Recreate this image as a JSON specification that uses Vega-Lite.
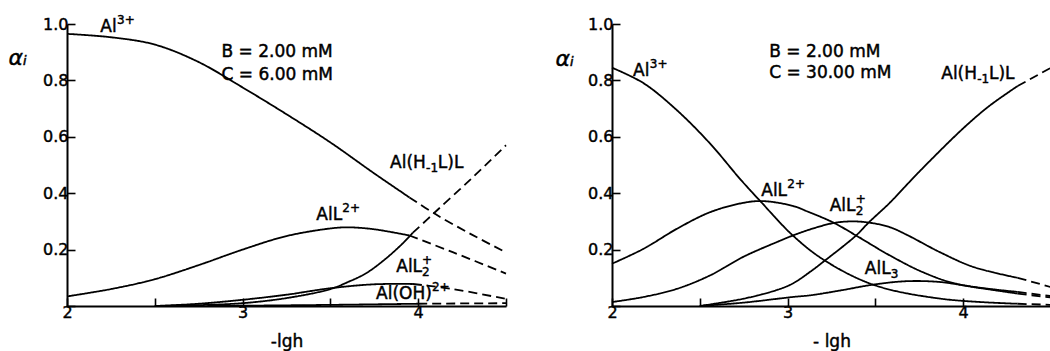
{
  "$schema": "https://vega.github.io/schema/vega-lite/v6.json",
  "background": "white",
  "padding": {"left": 8, "top": 14, "right": 0, "bottom": 6},
  "spacing": 106,
  "bounds": "flush",
  "config": {
    "view": {"stroke": null},
    "font": "DejaVu Sans",
    "style": {
      "guide-label": {"stroke": "black", "strokeWidth": 0.45},
      "guide-title": {"stroke": "black", "strokeWidth": 0.45}
    },
    "text": {"stroke": "black", "strokeWidth": 0.45},
    "axis": {
      "domainColor": "black", "domainWidth": 2, "tickColor": "black", "tickWidth": 1.6, "tickSize": -8,
      "labelColor": "black", "labelFont": "DejaVu Sans", "labelFontSize": 16, "grid": false,
      "titleColor": "black", "titleFont": "DejaVu Sans", "titleFontWeight": "normal", "labelFlush": false, "labelOverlap": false
    }
  },
  "datasets": {
    "left": [
      {"s":"Al3","seg":"solid","x":2.0,"y":0.965},{"s":"Al3","seg":"solid","x":2.25,"y":0.953},{"s":"Al3","seg":"solid","x":2.5,"y":0.927},{"s":"Al3","seg":"solid","x":2.75,"y":0.865},{"s":"Al3","seg":"solid","x":3.0,"y":0.775},{"s":"Al3","seg":"solid","x":3.25,"y":0.68},{"s":"Al3","seg":"solid","x":3.5,"y":0.58},{"s":"Al3","seg":"solid","x":3.75,"y":0.47},{"s":"Al3","seg":"solid","x":3.95,"y":0.385},
      {"s":"Al3","seg":"dashed","x":3.95,"y":0.385},{"s":"Al3","seg":"dashed","x":4.1,"y":0.325},{"s":"Al3","seg":"dashed","x":4.3,"y":0.255},{"s":"Al3","seg":"dashed","x":4.5,"y":0.19},
      {"s":"AlL","seg":"solid","x":2.0,"y":0.034},{"s":"AlL","seg":"solid","x":2.25,"y":0.06},{"s":"AlL","seg":"solid","x":2.5,"y":0.095},{"s":"AlL","seg":"solid","x":2.75,"y":0.145},{"s":"AlL","seg":"solid","x":3.0,"y":0.2},{"s":"AlL","seg":"solid","x":3.25,"y":0.248},{"s":"AlL","seg":"solid","x":3.5,"y":0.275},{"s":"AlL","seg":"solid","x":3.6,"y":0.279},{"s":"AlL","seg":"solid","x":3.75,"y":0.272},{"s":"AlL","seg":"solid","x":3.95,"y":0.25},
      {"s":"AlL","seg":"dashed","x":3.95,"y":0.25},{"s":"AlL","seg":"dashed","x":4.2,"y":0.19},{"s":"AlL","seg":"dashed","x":4.5,"y":0.115},
      {"s":"AlHL","seg":"solid","x":2.5,"y":0.0},{"s":"AlHL","seg":"solid","x":2.75,"y":0.003},{"s":"AlHL","seg":"solid","x":3.0,"y":0.01},{"s":"AlHL","seg":"solid","x":3.25,"y":0.028},{"s":"AlHL","seg":"solid","x":3.5,"y":0.06},{"s":"AlHL","seg":"solid","x":3.6,"y":0.085},{"s":"AlHL","seg":"solid","x":3.7,"y":0.115},{"s":"AlHL","seg":"solid","x":3.8,"y":0.16},{"s":"AlHL","seg":"solid","x":3.9,"y":0.215},{"s":"AlHL","seg":"solid","x":3.97,"y":0.26},
      {"s":"AlHL","seg":"dashed","x":3.97,"y":0.26},{"s":"AlHL","seg":"dashed","x":4.1,"y":0.335},{"s":"AlHL","seg":"dashed","x":4.3,"y":0.45},{"s":"AlHL","seg":"dashed","x":4.5,"y":0.57},
      {"s":"AlL2","seg":"solid","x":2.5,"y":0.0},{"s":"AlL2","seg":"solid","x":2.75,"y":0.008},{"s":"AlL2","seg":"solid","x":3.0,"y":0.022},{"s":"AlL2","seg":"solid","x":3.25,"y":0.04},{"s":"AlL2","seg":"solid","x":3.5,"y":0.063},{"s":"AlL2","seg":"solid","x":3.75,"y":0.077},{"s":"AlL2","seg":"solid","x":3.97,"y":0.078},
      {"s":"AlL2","seg":"dashed","x":3.97,"y":0.078},{"s":"AlL2","seg":"dashed","x":4.2,"y":0.06},{"s":"AlL2","seg":"dashed","x":4.5,"y":0.025},
      {"s":"AlOH","seg":"solid","x":2.8,"y":0.0},{"s":"AlOH","seg":"solid","x":3.0,"y":0.001},{"s":"AlOH","seg":"solid","x":3.5,"y":0.004},{"s":"AlOH","seg":"solid","x":4.0,"y":0.008},
      {"s":"AlOH","seg":"dashed","x":4.0,"y":0.008},{"s":"AlOH","seg":"dashed","x":4.5,"y":0.01}
    ],
    "right": [
      {"s":"Al3","seg":"solid","x":2.0,"y":0.845},{"s":"Al3","seg":"solid","x":2.18,"y":0.79},{"s":"Al3","seg":"solid","x":2.37,"y":0.694},{"s":"Al3","seg":"solid","x":2.56,"y":0.575},{"s":"Al3","seg":"solid","x":2.73,"y":0.45},{"s":"Al3","seg":"solid","x":2.84,"y":0.375},{"s":"Al3","seg":"solid","x":3.03,"y":0.25},{"s":"Al3","seg":"solid","x":3.21,"y":0.162},{"s":"Al3","seg":"solid","x":3.49,"y":0.075},{"s":"Al3","seg":"solid","x":3.87,"y":0.026},{"s":"Al3","seg":"solid","x":4.31,"y":0.008},
      {"s":"Al3","seg":"dashed","x":4.31,"y":0.008},{"s":"Al3","seg":"dashed","x":4.5,"y":0.004},
      {"s":"AlL","seg":"solid","x":2.0,"y":0.15},{"s":"AlL","seg":"solid","x":2.18,"y":0.203},{"s":"AlL","seg":"solid","x":2.37,"y":0.274},{"s":"AlL","seg":"solid","x":2.56,"y":0.333},{"s":"AlL","seg":"solid","x":2.75,"y":0.366},{"s":"AlL","seg":"solid","x":2.86,"y":0.372},{"s":"AlL","seg":"solid","x":3.03,"y":0.355},{"s":"AlL","seg":"solid","x":3.11,"y":0.336},{"s":"AlL","seg":"solid","x":3.26,"y":0.296},{"s":"AlL","seg":"solid","x":3.39,"y":0.25},{"s":"AlL","seg":"solid","x":3.58,"y":0.18},{"s":"AlL","seg":"solid","x":3.77,"y":0.12},{"s":"AlL","seg":"solid","x":3.96,"y":0.079},{"s":"AlL","seg":"solid","x":4.31,"y":0.05},
      {"s":"AlL","seg":"dashed","x":4.31,"y":0.05},{"s":"AlL","seg":"dashed","x":4.5,"y":0.035},
      {"s":"AlL2","seg":"solid","x":2.0,"y":0.014},{"s":"AlL2","seg":"solid","x":2.18,"y":0.032},{"s":"AlL2","seg":"solid","x":2.37,"y":0.061},{"s":"AlL2","seg":"solid","x":2.56,"y":0.109},{"s":"AlL2","seg":"solid","x":2.75,"y":0.175},{"s":"AlL2","seg":"solid","x":2.94,"y":0.227},{"s":"AlL2","seg":"solid","x":3.03,"y":0.25},{"s":"AlL2","seg":"solid","x":3.13,"y":0.272},{"s":"AlL2","seg":"solid","x":3.26,"y":0.294},{"s":"AlL2","seg":"solid","x":3.36,"y":0.3},{"s":"AlL2","seg":"solid","x":3.46,"y":0.296},{"s":"AlL2","seg":"solid","x":3.58,"y":0.28},{"s":"AlL2","seg":"solid","x":3.68,"y":0.252},{"s":"AlL2","seg":"solid","x":3.87,"y":0.19},{"s":"AlL2","seg":"solid","x":4.06,"y":0.138},{"s":"AlL2","seg":"solid","x":4.31,"y":0.1},
      {"s":"AlL2","seg":"dashed","x":4.31,"y":0.1},{"s":"AlL2","seg":"dashed","x":4.5,"y":0.067},
      {"s":"AlHL","seg":"solid","x":2.5,"y":0.0},{"s":"AlHL","seg":"solid","x":2.75,"y":0.026},{"s":"AlHL","seg":"solid","x":2.94,"y":0.057},{"s":"AlHL","seg":"solid","x":3.03,"y":0.08},{"s":"AlHL","seg":"solid","x":3.13,"y":0.122},{"s":"AlHL","seg":"solid","x":3.21,"y":0.16},{"s":"AlHL","seg":"solid","x":3.39,"y":0.25},{"s":"AlHL","seg":"solid","x":3.46,"y":0.295},{"s":"AlHL","seg":"solid","x":3.58,"y":0.365},{"s":"AlHL","seg":"solid","x":3.74,"y":0.47},{"s":"AlHL","seg":"solid","x":4.0,"y":0.63},{"s":"AlHL","seg":"solid","x":4.15,"y":0.71},{"s":"AlHL","seg":"solid","x":4.31,"y":0.78},
      {"s":"AlHL","seg":"dashed","x":4.31,"y":0.78},{"s":"AlHL","seg":"dashed","x":4.5,"y":0.845},
      {"s":"AlL3","seg":"solid","x":2.5,"y":0.0},{"s":"AlL3","seg":"solid","x":2.75,"y":0.012},{"s":"AlL3","seg":"solid","x":3.03,"y":0.032},{"s":"AlL3","seg":"solid","x":3.13,"y":0.038},{"s":"AlL3","seg":"solid","x":3.3,"y":0.055},{"s":"AlL3","seg":"solid","x":3.49,"y":0.076},{"s":"AlL3","seg":"solid","x":3.68,"y":0.088},{"s":"AlL3","seg":"solid","x":3.87,"y":0.085},{"s":"AlL3","seg":"solid","x":4.06,"y":0.067},{"s":"AlL3","seg":"solid","x":4.31,"y":0.044},
      {"s":"AlL3","seg":"dashed","x":4.31,"y":0.044},{"s":"AlL3","seg":"dashed","x":4.5,"y":0.03}
    ],
    "leftBase": [
      {"x":2.19,"y":0.97,"label":"Al"},
      {"x":2.88,"y":0.883,"label":"B = 2.00 mM"},
      {"x":2.88,"y":0.8,"label":"C = 6.00 mM"},
      {"x":3.84,"y":0.49,"label":"Al(H"},
      {"x":4.112,"y":0.49,"label":"L)L"},
      {"x":3.42,"y":0.305,"label":"AlL"},
      {"x":3.875,"y":0.12,"label":"AlL"},
      {"x":3.76,"y":0.025,"label":"Al(OH)"}
    ],
    "leftSup": [
      {"x":2.285,"y":0.97,"label":"3+"},
      {"x":3.568,"y":0.305,"label":"2+"},
      {"x":4.022,"y":0.12,"label":"+"},
      {"x":4.078,"y":0.025,"label":"2+"}
    ],
    "leftSub": [
      {"x":4.045,"y":0.49,"label":"-1"},
      {"x":4.022,"y":0.12,"label":"2"}
    ],
    "rightBase": [
      {"x":2.12,"y":0.815,"label":"Al"},
      {"x":2.895,"y":0.883,"label":"B = 2.00 mM"},
      {"x":2.895,"y":0.81,"label":"C = 30.00 mM"},
      {"x":3.875,"y":0.805,"label":"Al(H"},
      {"x":4.147,"y":0.805,"label":"L)L"},
      {"x":2.85,"y":0.39,"label":"AlL"},
      {"x":3.24,"y":0.336,"label":"AlL"},
      {"x":3.44,"y":0.115,"label":"AlL"}
    ],
    "rightSup": [
      {"x":2.215,"y":0.815,"label":"3+"},
      {"x":2.998,"y":0.39,"label":"2+"},
      {"x":3.388,"y":0.336,"label":"+"}
    ],
    "rightSub": [
      {"x":4.08,"y":0.805,"label":"-1"},
      {"x":3.388,"y":0.336,"label":"2"},
      {"x":3.588,"y":0.115,"label":"3"}
    ]
  },
  "hconcat": [
    {
      "width": 439, "height": 282,
      "encoding": {
        "x": {"field": "x", "type": "quantitative", "scale": {"domain": [2, 4.5], "nice": false, "zero": false},
          "axis": {"title": "-lgh", "values": [2, 2.5, 3, 3.5, 4, 4.5], "labelExpr": "datum.value % 1 === 0 ? format(datum.value, 'd') : ''", "labelPadding": 6, "titleFontSize": 17, "titleY": 40, "titleBaseline": "alphabetic"}},
        "y": {"field": "y", "type": "quantitative", "scale": {"domain": [0, 1], "nice": false},
          "axis": {"title": "αᵢ", "values": [0, 0.2, 0.4, 0.6, 0.8, 1.0], "labelExpr": "datum.value === 0 ? '' : format(datum.value, '.1f')", "labelPadding": 7, "titleAngle": 0, "titleFontSize": 22, "titleFontStyle": "italic", "titleX": -59, "titleY": 40, "titleAlign": "left", "titleBaseline": "alphabetic"}}
      },
      "layer": [
        {
          "data": {"name": "left"},
          "mark": {"type": "line", "interpolate": "catmull-rom", "strokeWidth": 1.8, "color": "black"},
          "encoding": {
            "detail": {"field": "s"},
            "strokeDash": {"field": "seg", "type": "nominal", "scale": {"domain": ["solid", "dashed"], "range": [[1, 0], [9, 5]]}, "legend": null}
          }
        },
        {
          "data": {"name": "leftBase"},
          "mark": {"type": "text", "align": "left", "baseline": "alphabetic", "fontSize": 17, "color": "black"},
          "encoding": {"text": {"field": "label"}}
        },
        {
          "data": {"name": "leftSup"},
          "mark": {"type": "text", "align": "left", "baseline": "alphabetic", "fontSize": 12, "dy": -8, "color": "black"},
          "encoding": {"text": {"field": "label"}}
        },
        {
          "data": {"name": "leftSub"},
          "mark": {"type": "text", "align": "left", "baseline": "alphabetic", "fontSize": 12, "dy": 4, "color": "black"},
          "encoding": {"text": {"field": "label"}}
        }
      ]
    },
    {
      "width": 439, "height": 282,
      "encoding": {
        "x": {"field": "x", "type": "quantitative", "scale": {"domain": [2, 4.5], "nice": false, "zero": false},
          "axis": {"title": "- lgh", "values": [2, 2.5, 3, 3.5, 4, 4.5], "labelExpr": "datum.value % 1 === 0 ? format(datum.value, 'd') : ''", "labelPadding": 6, "titleFontSize": 17, "titleY": 40, "titleBaseline": "alphabetic"}},
        "y": {"field": "y", "type": "quantitative", "scale": {"domain": [0, 1], "nice": false},
          "axis": {"title": "αᵢ", "values": [0, 0.2, 0.4, 0.6, 0.8, 1.0], "labelExpr": "datum.value === 0 ? '' : format(datum.value, '.1f')", "labelPadding": 7, "titleAngle": 0, "titleFontSize": 22, "titleFontStyle": "italic", "titleX": -57, "titleY": 41, "titleAlign": "left", "titleBaseline": "alphabetic"}}
      },
      "layer": [
        {
          "data": {"name": "right"},
          "mark": {"type": "line", "interpolate": "catmull-rom", "strokeWidth": 1.8, "color": "black"},
          "encoding": {
            "detail": {"field": "s"},
            "strokeDash": {"field": "seg", "type": "nominal", "scale": {"domain": ["solid", "dashed"], "range": [[1, 0], [8, 5]]}, "legend": null}
          }
        },
        {
          "data": {"name": "rightBase"},
          "mark": {"type": "text", "align": "left", "baseline": "alphabetic", "fontSize": 17, "color": "black"},
          "encoding": {"text": {"field": "label"}}
        },
        {
          "data": {"name": "rightSup"},
          "mark": {"type": "text", "align": "left", "baseline": "alphabetic", "fontSize": 12, "dy": -8, "color": "black"},
          "encoding": {"text": {"field": "label"}}
        },
        {
          "data": {"name": "rightSub"},
          "mark": {"type": "text", "align": "left", "baseline": "alphabetic", "fontSize": 12, "dy": 4, "color": "black"},
          "encoding": {"text": {"field": "label"}}
        }
      ]
    }
  ]
}
